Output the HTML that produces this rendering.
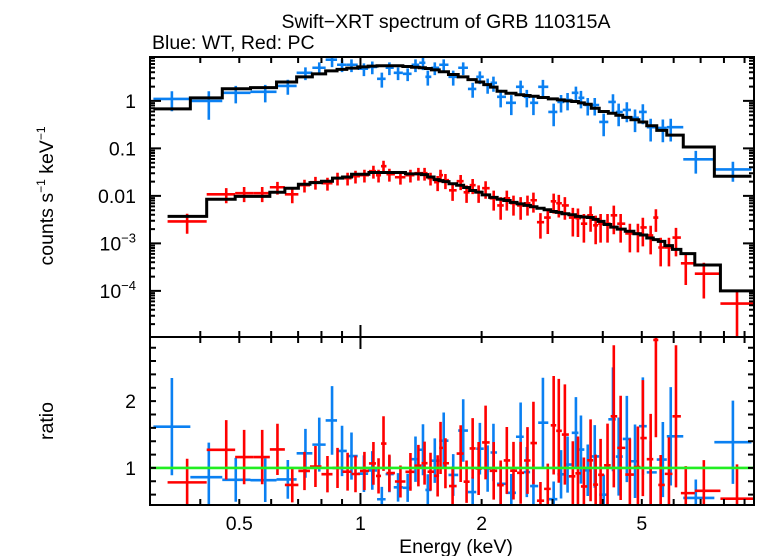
<!DOCTYPE html>
<html><head><meta charset="utf-8"><style>
body{margin:0;background:#fff}
svg{display:block;font-family:"Liberation Sans",sans-serif}
</style></head><body>
<svg id="chart" width="758" height="556" viewBox="0 0 758 556" xmlns="http://www.w3.org/2000/svg">
<rect x="0" y="0" width="758" height="556" fill="#fff"/>
<text x="446" y="28" font-size="19.5" text-anchor="middle">Swift−XRT spectrum of GRB 110315A</text>
<text x="152" y="49" font-size="19.5">Blue: WT, Red: PC</text>
<text transform="translate(53,196) rotate(-90)" font-size="19.5" text-anchor="middle">counts s<tspan font-size="12" dy="-8">−1</tspan><tspan dy="8"> keV</tspan><tspan font-size="12" dy="-8">−1</tspan></text>
<text transform="translate(53,421) rotate(-90)" font-size="19.5" text-anchor="middle">ratio</text>
<text x="456" y="553" font-size="19.5" text-anchor="middle">Energy (keV)</text>
<g id="plots"></g>
</svg>
<script>
// ---- data (WT, blue) ----
const wtEnergy=[0.34,0.42,0.49,0.58,0.66,0.73,0.79,0.85,0.90,0.95,1.02,1.07,1.13,1.18,1.24,1.31,1.37,1.43,1.47,1.53,1.61,1.70,1.80,1.90,1.98,2.07,2.14,2.23,2.37,2.50,2.59,2.69,2.84,3.02,3.15,3.27,3.43,3.53,3.67,3.82,4.02,4.24,4.38,4.59,4.81,5.03,5.26,5.64,5.90,6.81,8.42];
const wtCounts=[1.10,1.0,1.48,1.55,2.07,3.9,4.99,7.36,5.77,5.77,4.75,5.2,2.92,4.99,3.9,3.72,5.77,6.36,3.22,4.99,5.77,3.22,4.99,1.79,3.22,2.18,2.4,1.22,0.91,1.98,1.22,0.91,1.98,0.585,0.95,1.05,1.48,1.16,0.82,0.82,0.36,0.95,0.585,0.645,0.44,0.585,0.28,0.27,0.28,0.059,0.036];
const wtErr=[0.45,0.6,0.4,0.4,0.35,0.3,0.3,0.3,0.3,0.3,0.3,0.3,0.35,0.3,0.3,0.3,0.3,0.3,0.35,0.3,0.3,0.35,0.3,0.35,0.3,0.35,0.35,0.4,0.45,0.35,0.4,0.45,0.4,0.5,0.4,0.4,0.35,0.4,0.4,0.4,0.5,0.45,0.5,0.45,0.5,0.45,0.5,0.5,0.5,0.5,0.45];
const wtModel=[0.68,1.16,1.8,1.9,2.5,3.2,3.7,4.3,4.6,4.9,5.2,5.4,5.5,5.5,5.5,5.3,5.1,5.0,4.8,4.5,4.1,3.6,3.2,2.8,2.5,2.2,1.95,1.6,1.45,1.35,1.3,1.25,1.18,1.1,1.05,1.0,0.97,0.91,0.85,0.7,0.6,0.55,0.5,0.45,0.4,0.36,0.3,0.24,0.19,0.107,0.026];
// ---- data (PC, red) ----
const pcEnergy=[0.371,0.464,0.514,0.57,0.622,0.677,0.726,0.773,0.828,0.877,0.929,0.972,1.023,1.077,1.109,1.141,1.18,1.257,1.331,1.393,1.443,1.493,1.555,1.581,1.626,1.694,1.774,1.835,1.90,1.966,2.046,2.143,2.23,2.31,2.40,2.50,2.60,2.69,2.80,2.92,3.02,3.11,3.22,3.37,3.47,3.59,3.73,3.84,3.95,4.11,4.26,4.43,4.67,4.89,5.03,5.26,5.42,5.57,5.84,6.08,6.43,7.13,8.62];
const pcCounts=[0.0029,0.0108,0.0114,0.0114,0.0152,0.0108,0.0168,0.0194,0.0185,0.0236,0.0236,0.026,0.0273,0.0331,0.0273,0.0423,0.0286,0.0247,0.0273,0.030,0.030,0.0236,0.0194,0.0273,0.0214,0.0131,0.0204,0.0119,0.0168,0.0119,0.0145,0.0089,0.0063,0.0089,0.0070,0.0063,0.0070,0.0081,0.0028,0.0035,0.0077,0.0070,0.0063,0.0035,0.0034,0.0026,0.0039,0.0024,0.0026,0.0026,0.0039,0.0026,0.00162,0.00162,0.00217,0.00147,0.0035,0.00082,0.00082,0.00133,0.00038,0.00023,0.000054];
const pcErr=[0.45,0.35,0.35,0.35,0.3,0.35,0.3,0.3,0.3,0.3,0.3,0.3,0.3,0.3,0.3,0.3,0.3,0.3,0.3,0.3,0.3,0.3,0.35,0.3,0.35,0.4,0.35,0.4,0.35,0.4,0.4,0.45,0.5,0.45,0.45,0.5,0.45,0.45,0.55,0.55,0.45,0.5,0.5,0.6,0.6,0.6,0.55,0.6,0.6,0.6,0.6,0.6,0.6,0.6,0.6,0.6,0.5,0.6,0.6,0.6,0.65,0.7,0.95];
const pcModel=[0.0037,0.0085,0.0098,0.0098,0.0119,0.0145,0.0176,0.019,0.0204,0.0236,0.025,0.0286,0.0286,0.031,0.031,0.031,0.031,0.031,0.029,0.029,0.028,0.025,0.022,0.021,0.02,0.018,0.0168,0.015,0.013,0.012,0.0105,0.0093,0.0085,0.008,0.0073,0.0068,0.0063,0.0059,0.0055,0.0051,0.0047,0.0045,0.0042,0.0040,0.0037,0.0036,0.0035,0.0032,0.0029,0.0025,0.0022,0.002,0.0018,0.0016,0.0015,0.0013,0.0012,0.0011,0.0009,0.00075,0.00061,0.00035,0.0001];
const xTickLabels=[0.5,1,2,5];
const yTickBases=["1","0.1","0.01","10","10"];
const yTickExps=["","","","−3","−4"];
const yTickValues=[1,0.1,0.01,0.001,0.0001];
const ratioTickValues=[1,2];

const NS="http://www.w3.org/2000/svg";
const L=150,R=754,T1=57,B1=337,T2=337,B2=505;
const EMIN=0.30,EMAX=9.5,YMAX=8.4,YMIN=1.07e-5,RMIN=0.445,RMAX=2.96;
const xs=e=>L+(Math.log10(e)-Math.log10(EMIN))/(Math.log10(EMAX)-Math.log10(EMIN))*(R-L);
const ys=v=>T1+(Math.log10(YMAX)-Math.log10(v))/(Math.log10(YMAX)-Math.log10(YMIN))*(B1-T1);
const rs=v=>T2+(RMAX-v)/(RMAX-RMIN)*(B2-T2);
const g=document.getElementById('plots');
function mk(tag,attrs,parent){const el=document.createElementNS(NS,tag);for(const k in attrs)el.setAttribute(k,attrs[k]);(parent||g).appendChild(el);return el;}
function edges(E){const lo=[],hi=[];for(let i=0;i<E.length;i++){const a=i>0?Math.sqrt(E[i-1]*E[i]):E[i]*E[i]/Math.sqrt(E[i]*E[i+1]);const b=i<E.length-1?Math.sqrt(E[i]*E[i+1]):E[i]*E[i]/Math.sqrt(E[i-1]*E[i]);lo.push(Math.max(a,EMIN));hi.push(Math.min(b,EMAX));}return [lo,hi];}
const clampY=(y,t,b)=>Math.max(t,Math.min(b,y));

const defs=mk('defs',{});
const c1=mk('clipPath',{id:'clip1'},defs);mk('rect',{x:L,y:T1,width:R-L,height:B1-T1},c1);
const c2=mk('clipPath',{id:'clip2'},defs);mk('rect',{x:L,y:T2,width:R-L,height:B2-T2},c2);

function series(E,C,F,M,color,name){
  const [lo,hi]=edges(E);
  const gt=mk('g',{'clip-path':'url(#clip1)'});
  
  
  const gr=mk('g',{'clip-path':'url(#clip2)'});
  
  
  for(let i=0;i<E.length;i++){
    const x0=xs(lo[i]),x1=xs(hi[i]),xc=xs(E[i]);
    const y=ys(C[i]),yl=C[i]*(1-F[i])>0?ys(C[i]*(1-F[i])):B1+5,yh=ys(C[i]*(1+F[i]));
    const p=mk('path',{d:`M${x0},${y}H${x1}M${xc},${clampY(yl,T1-5,B1+5)}V${yh}`,stroke:color,'stroke-width':2.6,fill:'none'},gt);
    
    
    const r=C[i]/M[i],re=C[i]*F[i]/M[i];
    const ry=rs(r),ryl=rs(r-re),ryh=rs(r+re);
    const q=mk('path',{d:`M${x0},${ry}H${x1}M${xc},${clampY(ryl,T2-5,B2+5)}V${clampY(ryh,T2-5,B2+5)}`,stroke:color,'stroke-width':2.6,fill:'none'},gr);
    
    
  }
  let d='';
  for(let i=0;i<E.length;i++){const y=ys(M[i]);d+=(i===0?`M${xs(lo[i])},${y}`:`V${y}`)+`H${xs(hi[i])}`;}
  const m=mk('path',{d:d,stroke:'#000','stroke-width':3,fill:'none'},gt);
  
  
}
series(wtEnergy,wtCounts,wtErr,wtModel,'#0a80f2','wt');
series(pcEnergy,pcCounts,pcErr,pcModel,'#ff0000','pc');

const gl=mk('line',{x1:L,x2:R,y1:rs(1),y2:rs(1),stroke:'#22ee22','stroke-width':2.6});



for(const [t,b,nm] of [[T1,B1,'spectrum-frame'],[T2,B2,'ratio-frame']]){
  const f=mk('rect',{x:L,y:t,width:R-L,height:b-t,fill:'none',stroke:'#000','stroke-width':2});
  
  
}
let td='';
const xt=[0.3,0.4,0.5,0.6,0.7,0.8,0.9,1,2,3,4,5,6,7,8,9];
for(const e of xt){const x=xs(e);const len=(e===1)?12:6;for(const [t,b] of [[T1,B1],[T2,B2]]){td+=`M${x},${t}v${len}M${x},${b}v${-len}`;}}
for(let dec=-5;dec<=0;dec++){for(let k=1;k<=9;k++){const v=k*Math.pow(10,dec);if(v<YMIN||v>YMAX)continue;const y=ys(v);const len=k===1?11:5;td+=`M${L},${y}h${len}M${R},${y}h${-len}`;}}
for(let v=0.6;v<=2.81;v+=0.2){const y=rs(v);td+=`M${L},${y}h6M${R},${y}h-6`;}
const ticks=mk('path',{d:td,stroke:'#000','stroke-width':2,fill:'none'});


xTickLabels.forEach(v=>{const t=mk('text',{x:xs(v),y:530,'font-size':19.5,'text-anchor':'middle'});t.textContent=String(v);

});
yTickBases.forEach((s,i)=>{const t=mk('text',{x:136,y:ys(yTickValues[i])+7,'font-size':19.5,'text-anchor':'end'});
t.textContent=s;
if(yTickExps[i]){const sp=mk('tspan',{'font-size':13,dy:-8},t);sp.textContent=yTickExps[i];}

});
ratioTickValues.forEach(v=>{const t=mk('text',{x:136,y:rs(v)+7,'font-size':19.5,'text-anchor':'end'});t.textContent=String(v);

});
</script>
</body></html>
